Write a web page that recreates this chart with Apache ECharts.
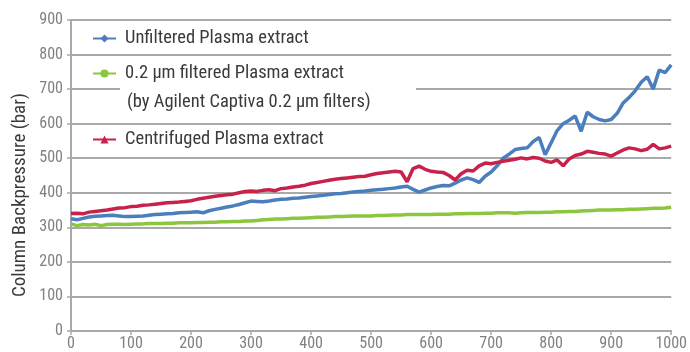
<!DOCTYPE html>
<html>
<head>
<meta charset="utf-8">
<script src="https://cdn.jsdelivr.net/npm/echarts@6/dist/echarts.min.js"></script>
<style>html,body{margin:0;padding:0;background:#fff}#c{width:690px;height:352px}</style>
</head>
<body>
<div id="c"></div>
<script>
var injections = [0,10,20,30,40,50,60,70,80,90,100,110,120,130,140,150,160,170,180,190,200,210,220,230,240,250,260,270,280,290,300,310,320,330,340,350,360,370,380,390,400,410,420,430,440,450,460,470,480,490,500,510,520,530,540,550,560,570,580,590,600,610,620,630,640,650,660,670,680,690,700,710,720,730,740,750,760,770,780,790,800,810,820,830,840,850,860,870,880,890,900,910,920,930,940,950,960,970,980,990,1000];

var unfiltered = [325,322,326,330,332,333,334,335,333,331,331,332,333,335,337,338,339,340,342,343,344,345,342,348,352,355,359,362,366,371,376,375,374,376,379,381,382,384,385,387,389,391,393,395,397,398,400,402,404,405,407,409,410,412,414,417,419,410,402,408,414,418,421,420,428,437,443,438,430,448,460,478,500,512,525,528,530,548,560,510,545,580,600,610,622,578,633,620,612,608,612,630,660,676,695,720,736,700,755,748,770];

var filtered = [310,305,308,307,309,305,308,309,309,308,309,310,310,311,311,311,312,312,313,313,313,314,314,315,315,316,316,317,317,318,318,320,322,323,324,324,325,326,326,327,328,329,329,330,331,331,332,333,333,333,333,334,334,335,336,336,337,337,337,337,337,338,338,338,339,339,340,340,340,341,341,342,342,342,341,342,343,343,343,344,344,345,345,346,346,347,348,349,350,350,350,351,351,352,352,353,354,355,355,356,358];

var centrifuged = [340,341,339,344,346,348,350,353,356,357,360,361,364,365,367,369,371,372,373,375,377,381,384,387,390,392,394,396,400,404,405,404,407,409,406,412,414,417,419,422,427,430,433,436,439,441,443,445,447,448,452,456,458,460,462,460,432,470,477,468,462,460,459,450,437,455,465,463,478,486,484,488,491,494,497,501,498,502,500,492,488,495,478,498,508,512,520,517,514,512,506,515,524,530,527,522,526,540,527,530,535];

var xTicks = {min: 0, max: 1000, interval: 100};
var yTicks = {min: 0, max: 900, interval: 100};
var names = ['Unfiltered Plasma extract', '0.2 µm filtered Plasma extract', 'Centrifuged Plasma extract'];
var subLabel = '(by Agilent Captiva 0.2 µm filters)';
var yTitle = 'Column Backpressure (bar)';

function pairs(arr) { return injections.map(function (x, i) { return [x, arr[i]]; }); }

var FAMILY = 'Roboto, "Open Sans", sans-serif';
var STRETCH = 'semi-condensed';
var colors = ['#4a7ebd', '#8cc63f', '#c8224b'];
var gridGray = '#a9a9a9';
var textColor = '#3a3a3a';

function legendAt(name, top) {
  return {
    data: [name], left: 92, top: top, padding: 0,
    itemWidth: 23, itemHeight: 10, itemGap: 0,
    textStyle: {fontFamily: FAMILY, fontStyle: STRETCH, fontSize: 18.5, color: textColor, backgroundColor: '#fff', padding: [1, 4, 1, 4]}
  };
}

var chart = echarts.init(document.getElementById('c'), null, {renderer: 'canvas'});
chart.setOption({
  animation: false,
  backgroundColor: '#fff',
  grid: {left: 71, right: 18, top: 20, bottom: 20, containLabel: false},
  legend: [legendAt(names[0], 28), legendAt(names[1], 63), legendAt(names[2], 129)],
  graphic: [
    {type: 'rect', z: 1, shape: {x: 120, y: 84, width: 296, height: 12}, style: {fill: '#fff'}},
    {type: 'text', z: 5, x: 123, y: 102, style: {text: subLabel, font: STRETCH + ' 18.5px ' + FAMILY, fill: textColor, verticalAlign: 'middle', align: 'left', backgroundColor: '#fff', padding: [1, 4, 1, 4]}},
    {type: 'text', z: 5, x: 20, y: 195, rotation: Math.PI / 2, style: {text: yTitle, font: STRETCH + ' 19px ' + FAMILY, fill: textColor, align: 'center', verticalAlign: 'middle'}}
  ],
  xAxis: {
    type: 'value', min: xTicks.min, max: xTicks.max, interval: xTicks.interval,
    axisLine: {show: true, lineStyle: {color: gridGray, width: 2}},
    axisTick: {show: true, length: 4, lineStyle: {color: gridGray, width: 1.5}},
    axisLabel: {fontFamily: FAMILY, fontStyle: STRETCH, fontSize: 16, color: '#808080', margin: 5,
      formatter: function (v) { return String(v); }},
    splitLine: {show: false}
  },
  yAxis: {
    type: 'value', min: yTicks.min, max: yTicks.max, interval: yTicks.interval,
    axisLine: {show: true, lineStyle: {color: gridGray, width: 2}},
    axisTick: {show: true, length: 4, lineStyle: {color: gridGray, width: 1.5}},
    axisLabel: {fontFamily: FAMILY, fontStyle: STRETCH, fontSize: 16, color: '#808080', margin: 8,
      formatter: function (v) { return String(v); }},
    splitLine: {show: true, lineStyle: {color: gridGray, width: 2}}
  },
  series: [
    {name: names[0], type: 'line', data: pairs(unfiltered), showSymbol: false, symbol: 'diamond', symbolSize: 7, z: 3,
     itemStyle: {color: colors[0]}, lineStyle: {color: colors[0], width: 3.5}},
    {name: names[1], type: 'line', data: pairs(filtered), showSymbol: false, symbol: 'circle', symbolSize: 5, z: 3,
     itemStyle: {color: colors[1]}, lineStyle: {color: colors[1], width: 3.5}},
    {name: names[2], type: 'line', data: pairs(centrifuged), showSymbol: false, symbol: 'triangle', symbolSize: 7, z: 3,
     itemStyle: {color: colors[2]}, lineStyle: {color: colors[2], width: 3.5}}
  ]
});
</script>
</body>
</html>
